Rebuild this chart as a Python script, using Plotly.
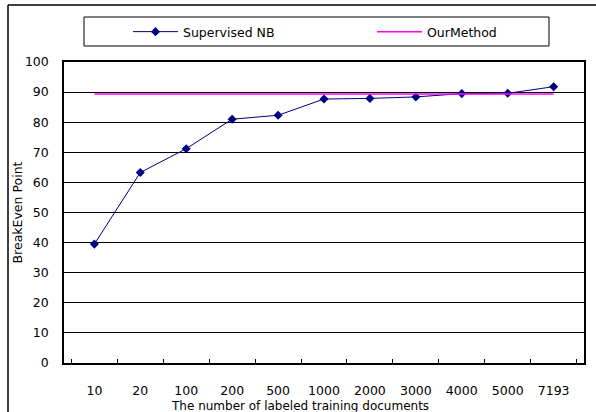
import plotly.graph_objects as go

# Training-set sizes (category axis) and BreakEven Point scores
sizes = ["10", "20", "100", "200", "500", "1000", "2000", "3000", "4000", "5000", "7193"]
supervised_nb = [39.5, 63.3, 71.2, 81.0, 82.3, 87.7, 87.9, 88.4, 89.5, 89.6, 91.8]
our_method = [89.4] * len(sizes)
x_title = "The number of labeled training documents"
y_title = "BreakEven Point"

W, H = 596, 412
L, R, T, B = 64, 12, 62, 49
PW, PH = W - L - R, H - T - B


def px_x(x):
    return (x - L) / PW


def px_y(y):
    return (H - B - y) / PH


FONT = "DejaVu Sans"
FS = 12.5
NAVY = "#000080"
MAGENTA = "#FF00FF"

fig = go.Figure()
fig.add_trace(go.Scatter(
    x=sizes, y=supervised_nb, name="Supervised NB",
    mode="lines+markers",
    line=dict(color=NAVY, width=1),
    marker=dict(symbol="diamond", size=7, color=NAVY),
    legend="legend",
))
fig.add_trace(go.Scatter(
    x=sizes, y=our_method, name="OurMethod",
    mode="lines",
    line=dict(color=MAGENTA, width=1.5),
    legend="legend2",
))

shapes = [
    # outer chart frame (left and top edges)
    dict(type="line", xref="paper", yref="paper",
         x0=px_x(8), x1=px_x(8), y0=px_y(5), y1=px_y(420),
         line=dict(color="black", width=1.5)),
    dict(type="line", xref="paper", yref="paper",
         x0=px_x(8), x1=px_x(600), y0=px_y(5), y1=px_y(5),
         line=dict(color="black", width=1.5)),
    # legend box
    dict(type="rect", xref="paper", yref="paper",
         x0=px_x(84), x1=px_x(549), y0=px_y(17), y1=px_y(46),
         line=dict(color="black", width=1), layer="below"),
]

# x-axis title placed just under the tick labels
annotations = [
    dict(text=x_title, xref="paper", yref="paper",
         x=px_x(300), y=px_y(406), xanchor="center", yanchor="middle",
         showarrow=False, font=dict(family=FONT, size=12, color="black")),
]

legend_style = dict(
    orientation="h", yanchor="middle", xanchor="left",
    bgcolor="rgba(0,0,0,0)", borderwidth=0, itemwidth=45,
    font=dict(family=FONT, size=FS, color="black"),
)

fig.update_layout(
    width=W, height=H,
    margin=dict(l=L, r=R, t=T, b=B, autoexpand=False),
    paper_bgcolor="white", plot_bgcolor="white",
    font=dict(family=FONT, size=FS, color="black"),
    shapes=shapes,
    annotations=annotations,
    showlegend=True,
    legend=dict(legend_style, x=px_x(128), y=px_y(32)),
    legend2=dict(legend_style, x=px_x(372), y=px_y(32)),
    xaxis=dict(
        type="category", categoryorder="array", categoryarray=sizes,
        showline=True, linecolor="black", linewidth=1.5, mirror=True,
        ticks="inside", tickson="boundaries", ticklen=4, tickcolor="black",
        showgrid=False, zeroline=False, automargin=False,
        ticklabelstandoff=15,
        tickfont=dict(size=FS),
    ),
    yaxis=dict(
        range=[0, 100], dtick=10, tick0=0,
        showline=True, linecolor="black", linewidth=1.5, mirror=True,
        showgrid=True, gridcolor="black", gridwidth=1,
        ticks="", zeroline=False, automargin=False,
        ticklabelstandoff=11,
        title=dict(text=y_title, standoff=0, font=dict(size=FS)),
        tickfont=dict(size=FS),
    ),
)

fig.write_html("out.html")
